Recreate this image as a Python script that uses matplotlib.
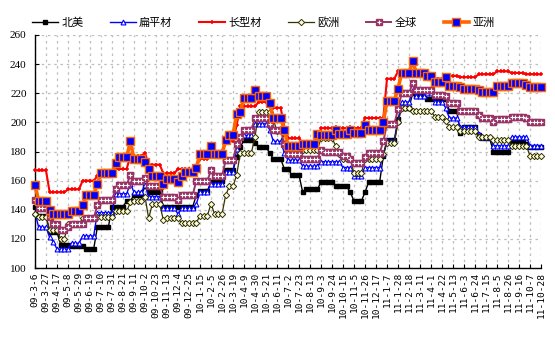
import numpy as np
import matplotlib
matplotlib.use("Agg")
import matplotlib.pyplot as plt
from matplotlib.legend_handler import HandlerTuple

plt.rcParams['font.family'] = ['Noto Sans CJK SC', 'DejaVu Sans']

series_names = ["北美", "扁平材", "长型材", "欧洲", "全球", "亚洲"]

tick_labels = ["09-3-6", "09-3-27", "09-4-17", "09-5-8", "09-5-29", "09-6-19", "09-7-10",
               "09-7-31", "09-8-21", "09-9-11", "09-10-2", "09-10-23", "09-11-13", "09-12-4",
               "09-12-25", "10-1-15", "10-2-5", "10-2-26", "10-3-19", "10-4-9", "10-4-30",
               "10-5-21", "10-6-11", "10-7-2", "10-7-23", "10-8-13", "10-9-3", "10-9-24",
               "10-10-15", "10-11-5", "10-11-26", "10-12-17", "11-1-7", "11-1-28", "11-2-18",
               "11-3-11", "11-4-1", "11-4-22", "11-5-13", "11-6-3", "11-6-24", "11-7-15",
               "11-8-5", "11-8-26", "11-9-16", "11-10-7", "11-10-28"]

north_america = [
    142,136,136,136,125,125,125,116,116,116,
    115,115,115,115,113,113,113,128,128,128,
    128,142,142,142,142,146,146,150,150,150,
    156,152,152,152,152,142,142,142,142,142,
    142,142,142,142,150,153,153,153,159,160,
    160,160,167,167,167,176,183,188,188,188,
    186,183,183,183,179,175,175,175,168,168,
    164,164,164,152,154,154,154,154,159,159,
    159,159,156,156,156,156,152,146,146,146,
    152,159,159,159,159,177,188,188,188,202,
    210,210,210,220,218,218,218,216,216,216,
    216,216,216,208,208,208,193,197,197,197,
    197,191,189,189,189,180,180,180,180,180,
    187,187,187,187,185,183,183,183,183]

flat = [
    138,128,128,128,121,118,113,113,113,113,
    117,117,117,122,122,122,122,138,138,138,
    138,138,151,151,151,151,158,152,152,152,
    157,149,149,149,149,141,141,141,141,137,
    141,141,141,141,144,152,152,152,158,158,
    158,158,166,166,166,182,190,191,191,191,
    199,199,199,199,195,187,187,187,179,174,
    174,174,174,170,170,170,170,170,173,173,
    173,173,173,173,169,169,169,163,163,163,
    169,169,169,169,169,178,187,187,187,201,
    214,214,214,222,218,218,218,220,220,214,
    214,214,210,203,203,203,197,197,197,197,
    197,192,190,190,190,184,184,184,184,184,
    190,190,190,190,190,184,184,184,184]

long_prod = [
    167,167,167,167,152,152,152,152,152,154,
    154,154,154,160,160,160,160,163,163,163,
    163,163,168,168,168,168,177,177,177,177,
    179,171,171,171,171,165,165,165,165,168,
    168,168,168,168,170,175,175,175,180,180,
    180,180,187,187,187,198,211,211,211,211,
    211,214,214,214,214,210,210,210,197,189,
    189,189,189,186,186,186,186,186,196,196,
    196,196,197,196,196,196,197,196,196,196,
    203,203,203,203,203,203,230,230,230,235,
    235,235,235,234,234,234,234,230,230,230,
    230,230,230,232,232,232,231,231,231,231,
    231,233,233,233,233,233,235,235,235,235,
    234,234,234,234,233,233,233,233,233]

europe = [
    137,135,135,135,126,126,126,120,120,130,
    130,130,130,134,134,134,134,135,135,135,
    135,135,139,139,139,139,145,146,146,146,
    149,134,144,144,144,133,134,134,134,134,
    131,131,131,131,131,136,136,136,144,137,
    137,137,150,156,156,164,179,179,179,179,
    190,207,207,207,207,202,194,194,189,184,
    184,184,184,181,181,181,181,181,189,189,
    189,189,184,178,175,175,175,165,165,165,
    175,175,175,175,175,178,186,186,186,200,
    210,210,210,208,208,208,208,208,208,204,
    204,204,201,197,197,197,194,194,194,194,
    194,190,190,190,190,188,188,188,188,188,
    184,184,184,184,184,177,177,177,177]

globe = [
    147,141,141,141,135,130,130,126,126,128,
    130,130,130,130,134,134,134,143,147,147,
    147,147,154,157,157,157,164,160,160,160,
    162,156,156,156,156,149,149,149,149,147,
    150,150,150,150,160,160,160,160,167,163,
    163,163,174,174,174,185,190,195,195,195,
    203,203,203,203,199,195,195,195,185,178,
    178,178,178,175,175,175,175,175,181,180,
    180,180,180,180,177,177,175,172,172,172,
    176,179,179,179,179,187,199,199,199,209,
    220,220,220,227,222,222,222,222,222,219,
    219,219,218,213,213,213,208,208,208,208,
    208,205,203,203,203,200,202,202,202,202,
    204,204,204,204,203,200,200,200,200]

asia = [
    157,146,146,146,140,137,137,137,137,137,
    139,139,139,143,150,150,150,158,165,165,
    165,165,172,176,176,176,187,175,175,175,
    173,168,163,163,163,158,161,161,161,159,
    163,166,166,166,169,178,178,178,184,178,
    178,178,188,191,191,206,207,217,217,217,
    222,218,218,218,213,203,203,203,195,184,
    184,184,184,185,185,185,185,192,191,191,
    191,191,195,192,192,192,195,193,193,193,
    198,195,195,195,195,200,215,215,215,223,
    234,234,234,242,234,234,234,232,232,228,
    228,228,231,225,225,225,224,223,223,223,
    223,222,221,221,221,221,225,225,225,225,
    227,227,227,227,226,224,224,224,224]

W, H = 555, 346
fig = plt.figure(figsize=(W/100, H/100), dpi=100)
ax = fig.add_axes([35/W, 1-268/H, (541-35)/W, (268-35)/H])

grid_col = '#BEBEBE'
ax.set_xlim(0, 138)
ax.set_ylim(100, 260)
ax.set_yticks(np.arange(100, 261, 20))
tick_pos = np.arange(0, 3*len(tick_labels), 3)
ax.set_xticks(tick_pos)
ax.set_xticklabels(tick_labels, rotation=90, fontsize=6.8, family='DejaVu Sans Mono',
                   va='top', ha='center')
for lbl in ax.get_yticklabels():
    lbl.set_family('Liberation Serif')
    lbl.set_fontsize(8)
ax.tick_params(axis='both', direction='in', length=3, width=0.8)
ax.tick_params(axis='y', pad=6)
ax.tick_params(axis='x', pad=3)
ax.grid(True, color=grid_col, linestyle=(0, (2, 3)), linewidth=0.9)
ax.set_axisbelow(True)
for s in ['top', 'right']:
    ax.spines[s].set_visible(False)
ax.spines['left'].set_linewidth(1.0)
ax.spines['bottom'].set_linewidth(1.0)

def xs(v):
    return np.arange(len(v))

h1, = ax.plot(xs(north_america), north_america, color='black', lw=1.0, marker='s', ms=3,
              mfc='black', mec='black', clip_on=False, zorder=3)
h2, = ax.plot(xs(flat), flat, color='#0000FF', lw=1.0, marker='^', ms=3.5,
              mfc='white', mec='#0000FF', mew=0.8, clip_on=False, zorder=3)
h3, = ax.plot(xs(long_prod), long_prod, color='#FF0000', lw=1.5, marker='+', ms=3.5,
              mec='#FF0000', mew=1.1, clip_on=False, zorder=4)
h4, = ax.plot(xs(europe), europe, color='#333300', lw=0.9, marker='D', ms=3.2,
              mfc='#FFFFE0', mec='#333300', mew=0.7, clip_on=False, zorder=3)
h5a, = ax.plot(xs(globe), globe, color='#993366', lw=1.4, marker='s', ms=4.2,
               mfc='#993366', mec='#993366', clip_on=False, zorder=4)
h5b, = ax.plot(xs(globe), globe, linestyle='none', marker='+', ms=3,
               mec='white', mew=0.8, clip_on=False, zorder=4)
h6, = ax.plot(xs(asia), asia, color='#FF6600', lw=2.6, marker='s', ms=5.2,
              mfc='#0000FF', mec='#FF6600', mew=1.0, clip_on=False, zorder=5)

leg = fig.legend([h1, h2, h3, h4, (h5a, h5b), h6], series_names,
                 loc='center', bbox_to_anchor=(0.475, 0.936), ncol=6, frameon=False,
                 prop={'family': ['Noto Sans CJK SC', 'DejaVu Sans'], 'size': 8},
                 handlelength=2.3, handletextpad=0.3, columnspacing=2.4,
                 handler_map={tuple: HandlerTuple(ndivide=1, pad=0)})

fig.savefig('out.png', dpi=100)
